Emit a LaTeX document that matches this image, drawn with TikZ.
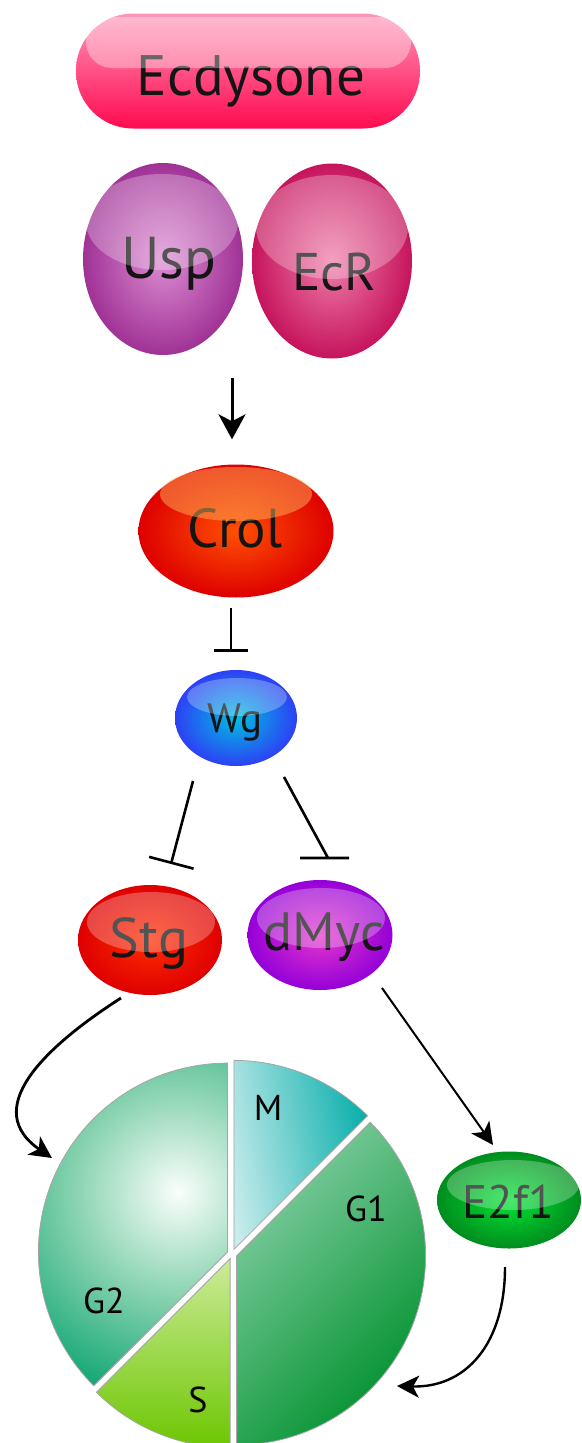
\documentclass[tikz,border=0pt]{standalone}
\usepackage{fontspec}
\setmainfont{PT Sans}
\usetikzlibrary{shapes.geometric,arrows.meta}
\definecolor{txt}{RGB}{20,20,20}
\definecolor{ecTop}{RGB}{255,150,185}
\definecolor{ecBot}{RGB}{255,10,80}
\definecolor{uspIn}{RGB}{220,140,210}
\definecolor{uspOut}{RGB}{160,50,150}
\definecolor{ecrIn}{RGB}{238,125,170}
\definecolor{ecrOut}{RGB}{198,20,92}
\definecolor{crolIn}{RGB}{255,80,0}
\definecolor{crolOut}{RGB}{222,0,0}
\definecolor{crolHl}{RGB}{255,175,90}
\definecolor{wgIn}{RGB}{0,190,225}
\definecolor{wgOut}{RGB}{45,65,245}
\definecolor{stgIn}{RGB}{255,45,0}
\definecolor{stgOut}{RGB}{222,0,0}
\definecolor{myIn}{RGB}{230,55,205}
\definecolor{myOut}{RGB}{148,0,215}
\definecolor{efIn}{RGB}{0,228,50}
\definecolor{efOut}{RGB}{0,140,30}
\definecolor{mIn}{RGB}{200,236,236}
\definecolor{mMid}{RGB}{110,205,200}
\definecolor{mOut}{RGB}{0,172,168}
\definecolor{gaTop}{RGB}{150,215,180}
\definecolor{gaMid}{RGB}{0,172,112}
\definecolor{gaBot}{RGB}{0,145,45}
\definecolor{sTop}{RGB}{205,236,155}
\definecolor{sBot}{RGB}{108,198,0}
\definecolor{gbIn}{RGB}{250,254,252}
\definecolor{gbMid}{RGB}{135,210,175}
\definecolor{gbOut}{RGB}{0,160,108}
\definecolor{pieEdge}{RGB}{165,165,165}
\pgfdeclareradialshading{gbshade}{\pgfpoint{0bp}{0bp}}{color(0bp)=(gbIn); color(6bp)=(gbMid); color(13bp)=(gbOut); color(50bp)=(gbOut)}
\newcommand\fsz[1]{\fontsize{#1}{#1}\selectfont}
\begin{document}
\begin{tikzpicture}[x=1pt,y=-1pt,
  body/.style={ellipse, inner sep=0pt, draw=none},
  lbl/.style={anchor=base, inner sep=0pt, text=txt},
  hl/.style={fill=white, fill opacity=0.27},
  act/.style={-{Stealth[length=22pt,width=22pt,inset=6pt]}, line width=2.2pt},
  inh/.style={-{Bar[width=46pt,line width=2.6pt]}, line width=2.6pt},
  pieedge/.style={draw=pieEdge, line width=0.8pt},
  plbl/.style={anchor=base, inner sep=0pt, text=black, font=\fsz{36}}]
\useasboundingbox (0,0) rectangle (581,1443);

% Ecdysone
\node[rectangle, rounded corners=57pt, minimum width=344pt, minimum height=115pt,
      top color=ecTop, bottom color=ecBot, inner sep=0pt] (ecd) at (248,71) {};
\node[lbl, font=\fsz{57}] (ecdT) at (251,95) {Ecdysone};
\fill[white, fill opacity=0.35, rounded corners=26pt] (86,17) rectangle (411,68);

% Usp / EcR
\node[body, minimum width=160pt, minimum height=192pt, inner color=uspIn, outer color=uspOut] (usp) at (163,259) {};
\node[lbl, font=\fsz{59}] (uspT) at (169,278) {Usp};
\fill[hl] (162,222) ellipse [x radius=76, y radius=48];
\node[body, minimum width=160pt, minimum height=195pt, inner color=ecrIn, outer color=ecrOut] (ecr) at (332,261) {};
\node[lbl, font=\fsz{53}] (ecrT) at (334,290) {EcR};
\fill[hl] (332,227) ellipse [x radius=76, y radius=52];

% Crol
\node[body, minimum width=195pt, minimum height=133pt, inner color=crolIn, outer color=crolOut] (crol) at (236,531) {};
\node[lbl, font=\fsz{55}] (crolT) at (235,547) {Crol};
\fill[crolHl, fill opacity=0.5] (236,494) ellipse [x radius=76, y radius=27];

% Wg
\node[body, minimum width=122pt, minimum height=96pt, inner color=wgIn, outer color=wgOut] (wg) at (236,718) {};
\node[lbl, font=\fsz{41}] (wgT) at (235,732) {Wg};
\fill[hl] (237,697) ellipse [x radius=50, y radius=19];

% Stg / dMyc
\node[body, minimum width=144pt, minimum height=110pt, inner color=stgIn, outer color=stgOut] (stg) at (150,940) {};
\node[lbl, font=\fsz{56}] (stgT) at (149,957) {Stg};
\fill[hl] (151,922) ellipse [x radius=64, y radius=30];
\node[body, minimum width=145pt, minimum height=110pt, inner color=myIn, outer color=myOut] (dmyc) at (320,935) {};
\node[lbl, font=\fsz{54}] (dmycT) at (324,950) {dMyc};
\fill[hl] (321,918) ellipse [x radius=64, y radius=30];

% E2f1
\node[body, minimum width=144pt, minimum height=97pt, inner color=efIn, outer color=efOut] (e2f1) at (509,1200) {};
\node[lbl, font=\fsz{47}] (e2f1T) at (508,1218) {E2f1};
\fill[hl] (513,1185) ellipse [x radius=66, y radius=25];

% cell cycle pie
\coordinate (cyc) at (232,1254);
\def\wM{(233.9,1249.4) -- ++(-90:189) arc[start angle=-90,end angle=-45,radius=189] -- cycle}
\def\wGa{(236.6,1255.9) -- ++(-45:189) arc[start angle=-45,end angle=90,radius=189] -- cycle}
\def\wS{(230.1,1258.6) -- ++(90:189) arc[start angle=90,end angle=135,radius=189] -- cycle}
\def\wGb{(227.4,1252.1) -- ++(135:189) arc[start angle=135,end angle=270,radius=189] -- cycle}
\begin{scope}
  \clip \wGb;
  \shade[shading=gbshade] (178,1192) circle (440);
\end{scope}
\begin{scope}
  \clip \wM;
  \shade[left color=mIn, middle color=mMid, right color=mOut, shading angle=100] (228,1055) rectangle (375,1255);
\end{scope}
\begin{scope}
  \clip \wGa;
  \shade[top color=gaTop, middle color=gaMid, bottom color=gaBot, shading angle=45] (236,1060) rectangle (430,1450);
\end{scope}
\begin{scope}
  \clip \wS;
  \shade[top color=sTop, bottom color=sBot] (95,1255) rectangle (235,1450);
\end{scope}
\draw[pieedge] \wGb;
\draw[pieedge] \wM;
\draw[pieedge] \wGa;
\draw[pieedge] \wS;
\node[plbl] (lM) at (268,1120) {M};
\node[plbl] (lG1) at (366,1221) {G1};
\node[plbl] (lG2) at (104,1313) {G2};
\node[plbl] (lS) at (198,1412) {S};

% connectors
\coordinate (rcpt) at (232,378);
\draw[-{Stealth[length=25pt,width=27pt,inset=7pt]}, line width=3pt] (rcpt) -- ([shift={(-4,-25)}]crol.north);
\draw[-{Bar[width=34pt,line width=2.6pt]}, line width=2.6pt] ([shift={(-5,10)}]crol.south) -- ([shift={(-5,-18)}]wg.north);
\draw[inh] ([shift={(-43,63)}]wg.center) -- ([shift={(21,-76)}]stg.center);
\draw[line width=2.6pt] ([shift={(48,59)}]wg.center) -- ([shift={(8,-77)}]dmyc.center) ++(-28,0) -- ++(49,0);
\draw[act, line width=2.8pt] ([shift={(-29,58)}]stg.center) .. controls (40,1050) and (-18,1110) .. ([shift={(-180,-96)}]cyc);
\draw[act, line width=2pt] ([shift={(62,53)}]dmyc.center) -- ([shift={(-16,-55)}]e2f1.center);
\draw[act, line width=2.4pt] ([shift={(-4,67)}]e2f1.center) .. controls (505,1345) and (465,1388) .. ([shift={(165,132)}]cyc);
\end{tikzpicture}
\end{document}
